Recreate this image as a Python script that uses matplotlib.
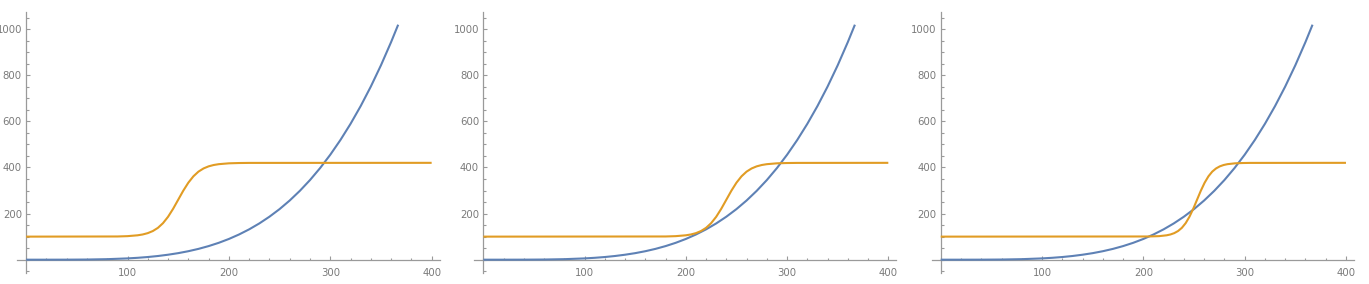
import matplotlib
matplotlib.use("Agg")
import matplotlib.pyplot as plt
from matplotlib.ticker import MultipleLocator

# blue curve (same in all three panels)
blue_x = [0, 20, 40, 60, 80, 100, 110, 120, 130, 140, 150, 160, 170, 180, 190,
          200, 210, 220, 230, 240, 250, 260, 270, 280, 290, 300, 310, 320, 330,
          340, 350, 360, 367]
blue_y = [0, 0.01, 0.14, 0.7, 2.3, 5.6, 8.2, 11.6, 16.0, 21.6, 28.4, 36.8, 46.9,
          59.0, 73.2, 89.9, 109.3, 131.6, 157.2, 186.4, 219.4, 256.7, 298.6,
          345.3, 397.4, 455.1, 518.9, 589.1, 666.2, 750.7, 843.0, 943.6, 1019]

# orange step curves, one per panel
orange1_x = [0, 90, 100, 110, 115, 120, 125, 130, 135, 140, 145, 150, 155, 160,
             165, 170, 175, 180, 185, 190, 200, 210, 220, 400]
orange1_y = [100, 100.7, 102.1, 105.8, 109.4, 115.2, 124.3, 138.1, 158.4, 186.1,
             220.8, 260, 299.2, 333.9, 361.6, 381.9, 395.7, 404.8, 410.6, 414.2,
             417.9, 419.2, 419.7, 420]

orange2_x = [0, 180, 190, 200, 205, 210, 215, 220, 225, 230, 235, 240, 245, 250,
             255, 260, 265, 270, 275, 280, 290, 300, 310, 400]
orange2_y = orange1_y

orange3_x = [0, 205, 215.5, 223, 226.75, 230.5, 234.25, 238, 241.75, 245.5,
             249.25, 253, 256.75, 260.5, 264.25, 268, 271.75, 275.5, 279.25,
             283, 290.5, 298, 305, 400]
orange3_y = orange1_y

x_ticks = [100, 200, 300, 400]
y_ticks = [200, 400, 600, 800, 1000]

BLUE = "#5e81b5"
ORANGE = "#e19c24"
AXIS = "#9a9a9a"

fig = plt.figure(figsize=(13.69, 2.84), dpi=100)
lefts = [0.01242, 0.3464, 0.6805]
widths = [0.3088, 0.3084, 0.3086]
oranges = [(orange1_x, orange1_y), (orange2_x, orange2_y), (orange3_x, orange3_y)]

for left, w, (ox, oy) in zip(lefts, widths, oranges):
    ax = fig.add_axes([left, 0.0401, w, 0.9176])
    ax.plot(blue_x, blue_y, color=BLUE, lw=1.5, solid_capstyle="butt")
    ax.plot(ox, oy, color=ORANGE, lw=1.5, solid_capstyle="butt")
    ax.set_xlim(-9, 408)
    ax.set_ylim(-56, 1074)
    for s in ["top", "right"]:
        ax.spines[s].set_visible(False)
    for s in ["left", "bottom"]:
        ax.spines[s].set_position(("data", 0))
        ax.spines[s].set_color(AXIS)
        ax.spines[s].set_linewidth(0.9)
        ax.spines[s].set_zorder(0.5)
    ax.set_xticks(x_ticks)
    ax.set_yticks(y_ticks)
    ax.xaxis.set_minor_locator(MultipleLocator(20))
    ax.yaxis.set_minor_locator(MultipleLocator(50))
    ax.tick_params(which="both", direction="in", color=AXIS, width=0.8,
                   labelcolor="#7a7a7a", labelsize=7.3)
    ax.tick_params(which="major", length=3.2)
    ax.tick_params(which="minor", length=1.8)
    ax.tick_params(axis="x", pad=6)
    ax.tick_params(axis="y", pad=3)
    ax.patch.set_alpha(0)

fig.savefig("out.png", dpi=100)
